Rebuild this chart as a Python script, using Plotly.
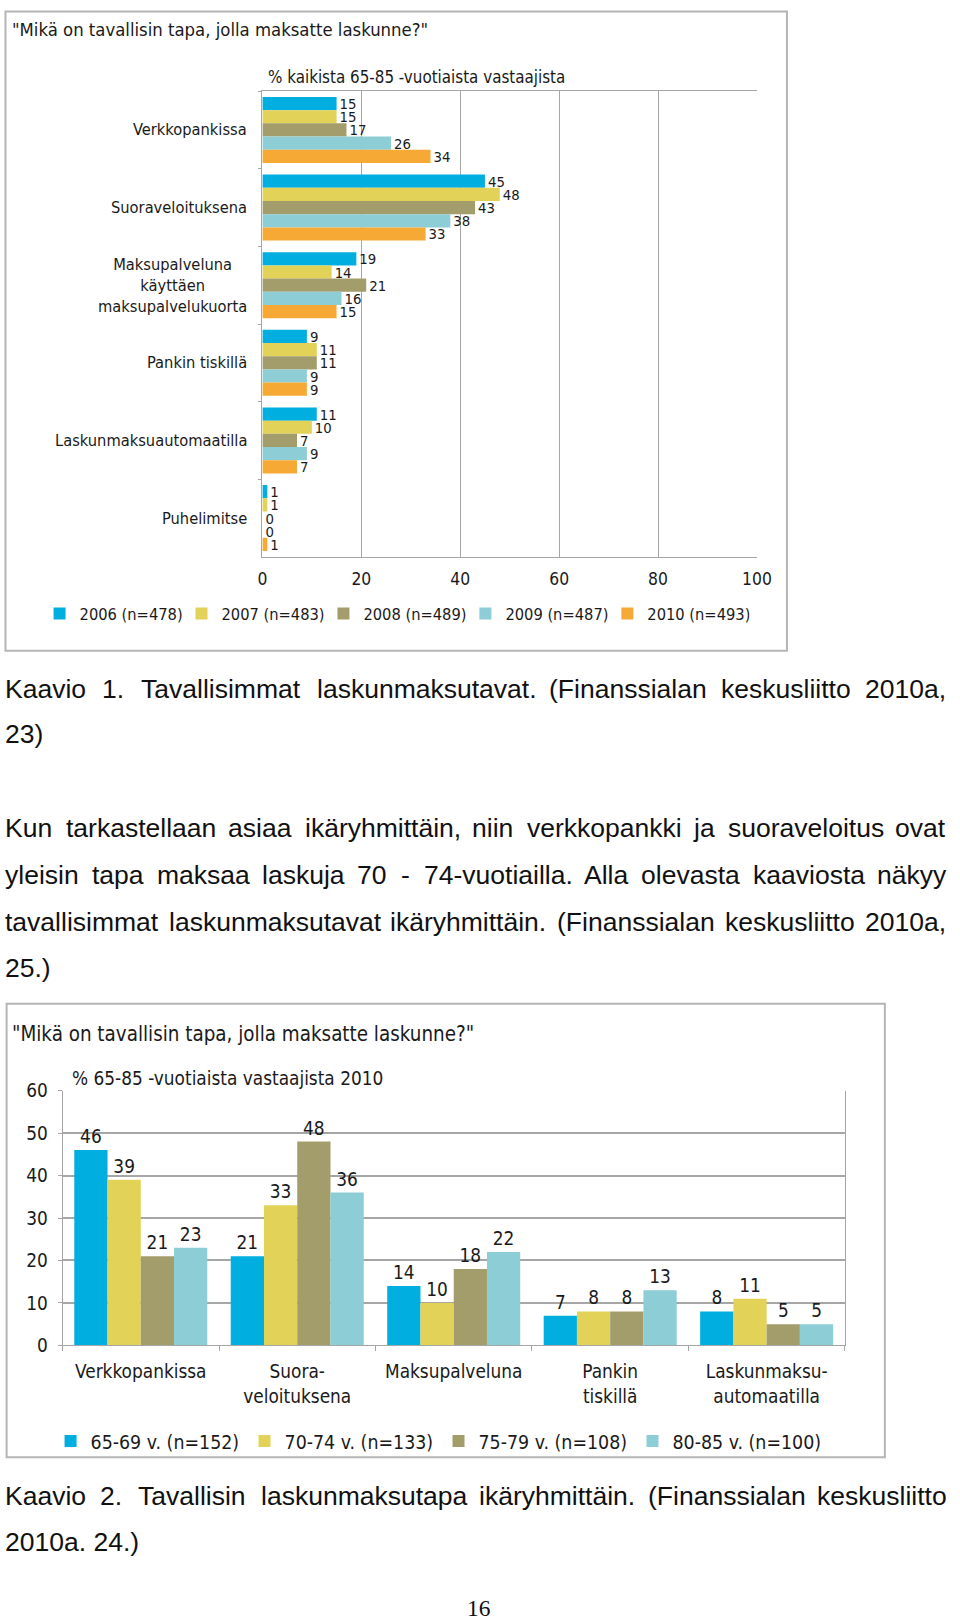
import plotly.graph_objects as go

W, H = 960, 1622

# ── Chart 1: payment methods by survey year ─────────────
methods = [
    "Verkkopankissa",
    "Suoraveloituksena",
    "Maksupalveluna käyttäen maksupalvelukuorta",
    "Pankin tiskillä",
    "Laskunmaksuautomaatilla",
    "Puhelimitse",
]
method_labels = [
    "Verkkopankissa",
    "Suoraveloituksena",
    "Maksupalveluna<br>käyttäen<br>maksupalvelukuorta",
    "Pankin tiskillä",
    "Laskunmaksuautomaatilla",
    "Puhelimitse",
]
years = ["2006 (n=478)", "2007 (n=483)", "2008 (n=489)", "2009 (n=487)", "2010 (n=493)"]
v2006 = [15, 45, 19, 9, 11, 1]
v2007 = [15, 48, 14, 11, 10, 1]
v2008 = [17, 43, 21, 11, 7, 0]
v2009 = [26, 38, 16, 9, 9, 0]
v2010 = [34, 33, 15, 9, 7, 1]

# ── Chart 2: payment methods by age group (2010) ────────
methods_2010 = [
    "Verkkopankissa",
    "Suora-<br>veloituksena",
    "Maksupalveluna",
    "Pankin<br>tiskillä",
    "Laskunmaksu-<br>automaatilla",
]
age_groups = ["65-69 v. (n=152)", "70-74 v. (n=133)", "75-79 v. (n=108)", "80-85 v. (n=100)"]
a65_69 = [46, 21, 14, 7, 8]
a70_74 = [39, 33, 10, 8, 11]
a75_79 = [21, 48, 18, 8, 5]
a80_85 = [23, 36, 22, 13, 5]

# ── Page text ───────────────────────────────────────────
justified_lines = [
    (689, "Kaavio 1. Tavallisimmat laskunmaksutavat. (Finanssialan keskusliitto 2010a,"),
    (828, "Kun tarkastellaan asiaa ikäryhmittäin, niin verkkopankki ja suoraveloitus ovat"),
    (875, "yleisin tapa maksaa laskuja 70 - 74-vuotiailla. Alla olevasta kaaviosta näkyy"),
    (922, "tavallisimmat laskunmaksutavat ikäryhmittäin. (Finanssialan keskusliitto 2010a,"),
    (1497, "Kaavio 2. Tavallisin laskunmaksutapa ikäryhmittäin. (Finanssialan keskusliitto"),
]
plain_lines = [(734, "23)"), (968, "25.)"), (1543, "2010a. 24.)")]
page_number = "16"

COLORS = ["#00AEDF", "#E2D257", "#A39D6C", "#8DCDD5", "#F6AA35"]
CHART_FONT = "DejaVu Sans Condensed, DejaVu Sans, sans-serif"
PAGE_FONT = "Liberation Sans, Arial, sans-serif"
GRID = "#A6A6A6"
INK = "#1a1a1a"

# the captured picture comes out slightly shrunk and offset; undo that
SX, CX = 0.98, 4.4
SY, CY = 0.987, 10.8
FS = 1 / SX


def to_page_x(t):
    return min(max((t - CX) / SX, 0.5), W - 0.5)


def to_page_y(t):
    return min(max((t - CY) / SY, 0.5), H - 0.5)


def px(x):
    return to_page_x(x) / W


def py(y):
    return 1 - to_page_y(y) / H


PAGE_SIZE = 26 * FS

# Arial / Liberation Sans advance widths (per 1000 em) for justification
CHAR_W = {
    " ": 278, ".": 278, ",": 278, "(": 333, ")": 333, "-": 333,
    "K": 667, "T": 611, "F": 611, "A": 667,
    "a": 556, "b": 556, "c": 500, "d": 556, "e": 556, "f": 278, "g": 556,
    "h": 556, "i": 222, "j": 222, "k": 500, "l": 222, "m": 833, "n": 556,
    "o": 556, "p": 556, "q": 556, "r": 333, "s": 500, "t": 278, "u": 556,
    "v": 500, "w": 722, "x": 500, "y": 500, "z": 500, "ä": 556, "ö": 556,
}


def text_width(s, size):
    return sum(CHAR_W.get(c, 556) for c in s) * size / 1000.0


fig = go.Figure()

for name, vals, col in zip(years, [v2006, v2007, v2008, v2009, v2010], COLORS):
    fig.add_trace(go.Bar(
        x=vals, y=methods, orientation="h", name=name,
        marker=dict(color=col, line=dict(width=0)),
        text=vals, textposition="outside", cliponaxis=False, constraintext="none",
        textfont=dict(family=CHART_FONT, size=14.5 * FS, color=INK),
        xaxis="x", yaxis="y", legend="legend",
    ))

for name, vals, col in zip(age_groups, [a65_69, a70_74, a75_79, a80_85], COLORS[:4]):
    fig.add_trace(go.Bar(
        x=methods_2010, y=vals, name=name,
        marker=dict(color=col, line=dict(width=0)),
        text=vals, textposition="outside", cliponaxis=False, constraintext="none",
        textfont=dict(family=CHART_FONT, size=18.5 * FS, color=INK),
        xaxis="x2", yaxis="y2", legend="legend2",
    ))

annotations = []

# category labels for chart 1 (centred multi-line blocks)
for m, lab in zip(methods, method_labels):
    annotations.append(dict(
        text=lab, x=px(249), xref="paper", y=m, yref="y",
        xanchor="right", yanchor="middle", align="center", showarrow=False,
        font=dict(family=CHART_FONT, size=16 * FS, color=INK),
    ))

# chart titles
titles = [
    ('"Mikä on tavallisin tapa, jolla maksatte laskunne?"', 9, 29, 18),
    ("% kaikista 65-85 -vuotiaista vastaajista", 266, 77, 16.5),
    ('"Mikä on tavallisin tapa, jolla maksatte laskunne?"', 9, 1034, 20),
    ("% 65-85 -vuotiaista vastaajista 2010", 69, 1078, 18.5),
]
for t, x, y, s in titles:
    annotations.append(dict(
        text=t, x=px(x), y=py(y), xref="paper", yref="paper",
        xanchor="left", yanchor="middle", showarrow=False,
        font=dict(family=CHART_FONT, size=s * FS, color=INK),
    ))

# justified page lines, placed word by word (in page pixels)
LEFT, RIGHT = to_page_x(1), to_page_x(958)
for y, line in justified_lines:
    words = line.split(" ")
    widths = [text_width(w, PAGE_SIZE) for w in words]
    gap = (RIGHT - LEFT - sum(widths)) / (len(words) - 1)
    x = LEFT
    for w, wd in zip(words, widths):
        annotations.append(dict(
            text=w, x=x / W, y=py(y), xref="paper", yref="paper",
            xanchor="left", yanchor="middle", showarrow=False,
            borderpad=0, borderwidth=0,
            font=dict(family=PAGE_FONT, size=PAGE_SIZE, color="#111"),
        ))
        x += wd + gap

for y, line in plain_lines:
    annotations.append(dict(
        text=line, x=LEFT / W, y=py(y), xref="paper", yref="paper",
        xanchor="left", yanchor="middle", showarrow=False,
        borderpad=0, borderwidth=0,
        font=dict(family=PAGE_FONT, size=PAGE_SIZE, color="#111"),
    ))

annotations.append(dict(
    text=page_number, x=px(479), y=py(1609), xref="paper", yref="paper",
    xanchor="center", yanchor="middle", showarrow=False,
    font=dict(family="Liberation Serif, Times New Roman, serif", size=23 * FS, color="#111"),
))

# chart frames
shapes = []
for x0, y0, x1, y1 in [(4, 2, 787, 651), (6, 1004, 885, 1458)]:
    shapes.append(dict(type="rect", xref="paper", yref="paper",
                       x0=px(x0), y0=py(y1), x1=px(x1), y1=py(y0),
                       line=dict(color="#B5B5B5", width=2), fillcolor="white",
                       layer="below"))

fig.update_layout(
    width=W, height=H,
    margin=dict(l=0, r=0, t=0, b=0),
    paper_bgcolor="white", plot_bgcolor="white",
    barmode="group", bargap=0.15, bargroupgap=0,
    font=dict(family=CHART_FONT, color=INK),
    showlegend=True,
    xaxis=dict(
        domain=[px(262), px(757)], anchor="y", range=[0, 100], dtick=20,
        showgrid=True, gridcolor=GRID, gridwidth=1, zeroline=False,
        showline=True, linecolor=GRID, linewidth=1, mirror=True,
        ticks="", ticklabelstandoff=6,
        tickfont=dict(family=CHART_FONT, size=17 * FS, color=INK),
    ),
    yaxis=dict(
        domain=[py(557), py(91)], anchor="x", autorange="reversed",
        showticklabels=False, showgrid=False, zeroline=False,
        showline=True, linecolor=GRID, linewidth=1,
        ticks="outside", ticklen=3, tickcolor=GRID, tickson="boundaries",
    ),
    xaxis2=dict(
        domain=[px(62), px(845)], anchor="y2", type="category",
        showgrid=False, zeroline=False,
        showline=True, linecolor=GRID, linewidth=1,
        ticks="outside", ticklen=5, tickcolor=GRID, tickson="boundaries",
        ticklabelstandoff=9,
        tickfont=dict(family=CHART_FONT, size=18.5 * FS, color=INK),
    ),
    yaxis2=dict(
        domain=[py(1346), py(1091)], anchor="x2", range=[0, 60], dtick=10,
        showgrid=True, gridcolor=GRID, gridwidth=2, zeroline=False,
        showline=True, linecolor=GRID, linewidth=1, mirror=True,
        ticks="outside", ticklen=4, tickcolor=GRID, ticklabelstandoff=6,
        tickfont=dict(family=CHART_FONT, size=18.5 * FS, color=INK),
    ),
    legend=dict(
        orientation="h", x=px(39), y=py(614), xanchor="left", yanchor="middle",
        entrywidth=95 * FS, entrywidthmode="pixels", itemwidth=30,
        font=dict(family=CHART_FONT, size=16 * FS, color=INK),
        bgcolor="rgba(0,0,0,0)",
    ),
    legend2=dict(
        orientation="h", x=px(50), y=py(1442), xanchor="left", yanchor="middle",
        entrywidth=146 * FS, entrywidthmode="pixels", itemwidth=30,
        font=dict(family=CHART_FONT, size=19 * FS, color=INK),
        bgcolor="rgba(0,0,0,0)",
    ),
    annotations=annotations,
    shapes=shapes,
)

# pin the figure to the page corner so it fills the window exactly
page_css = (
    "var box='margin:0;padding:0;overflow:hidden;width:960px;height:1622px';"
    "document.documentElement.style.cssText=box;"
    "document.body.style.cssText=box;"
    "var gd=document.getElementById('{plot_id}');"
    "gd.style.position='fixed';gd.style.left='0px';gd.style.top='0px';"
)
fig.write_html("out.html", config={"displayModeBar": False}, post_script=page_css)
